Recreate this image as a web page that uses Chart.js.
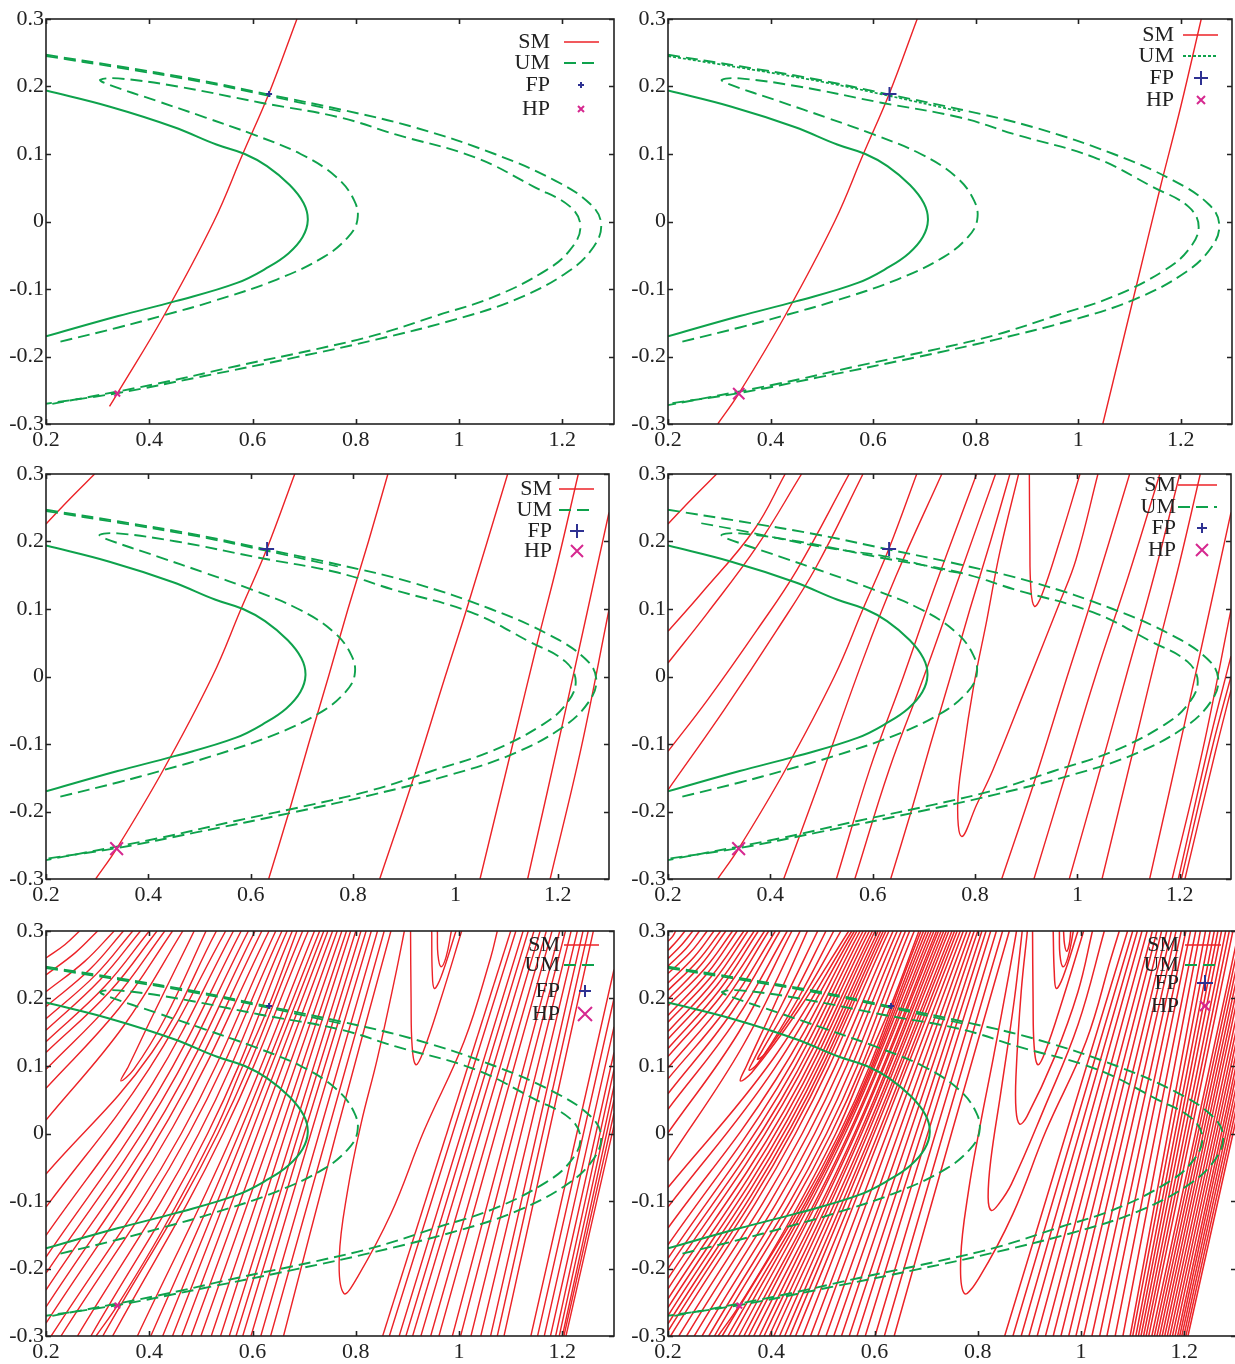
<!DOCTYPE html>
<html>
<head>
<meta charset="utf-8">
<title>Stable and unstable manifolds</title>
<script src="https://cdn.jsdelivr.net/npm/chart.js@4.4.1/dist/chart.umd.min.js"></script>
<style>
  html, body { margin: 0; padding: 0; background: #fff; }
  body { width: 1235px; height: 1364px; position: relative; overflow: hidden; }
  canvas { position: absolute; }
</style>
</head>
<body>
<script>
// ---------------- DATA ----------------
const X_TICKS = [0.2, 0.4, 0.6, 0.8, 1, 1.2];
const X_TICK_LABELS = ['0.2', '0.4', '0.6', '0.8', '1', '1.2'];
const Y_TICKS = [-0.3, -0.2, -0.1, 0, 0.1, 0.2, 0.3];
const Y_TICK_LABELS = ['-0.3', '-0.2', '-0.1', '0', '0.1', '0.2', '0.3'];
const LEGEND_LABELS = ['SM', 'UM', 'FP', 'HP'];

const FP = [0.632, 0.189];   // fixed point
const HP = [0.338, -0.255];  // homoclinic point

// unstable manifold (same in every panel), flat x,y lists
const UM_SOLID = [0.2,0.194, 0.324,0.17, 0.447,0.14, 0.53,0.114, 0.585,0.1, 0.628,0.082, 0.672,0.054, 0.699,0.027,
  0.707,0.002, 0.697,-0.023, 0.67,-0.047, 0.632,-0.067, 0.57,-0.091, 0.451,-0.118, 0.34,-0.14, 0.2,-0.17];
const UM_FOLD = [0.228,-0.178, 0.34,-0.157, 0.428,-0.139, 0.524,-0.118, 0.647,-0.086, 0.739,-0.052, 0.785,-0.023,
  0.803,0.002, 0.797,0.031, 0.762,0.066, 0.693,0.1, 0.601,0.129, 0.509,0.154, 0.417,0.178, 0.317,0.204, 0.305,0.21,
  0.34,0.212, 0.455,0.2, 0.616,0.176, 0.77,0.154, 0.877,0.129, 1.031,0.095, 1.146,0.051, 1.215,0.022, 1.235,-0.008,
  1.215,-0.042, 1.169,-0.072, 1.069,-0.111, 0.954,-0.14, 0.839,-0.168, 0.724,-0.189, 0.57,-0.214, 0.417,-0.24, 0.2,-0.272];
const UM_OUTER = [0.2,0.247, 0.34,0.23, 0.493,0.21, 0.632,0.188, 0.77,0.166, 0.916,0.139, 1.069,0.1, 1.185,0.061,
  1.254,0.026, 1.275,-0.003, 1.261,-0.037, 1.208,-0.076, 1.108,-0.116, 0.993,-0.145, 0.839,-0.175, 0.685,-0.201,
  0.493,-0.231, 0.34,-0.254, 0.2,-0.27];
const UM_TWIN = [0.2,0.245, 0.34,0.228, 0.5,0.207, 0.632,0.186, 0.77,0.163];
const UM_SPLIT = [0.265,0.227, 0.35,0.215, 0.5,0.192, 0.632,0.177, 0.735,0.158, 0.78,0.152];

// stable manifold pieces, flat x,y lists
const SM_R1 = [0.297,-0.3, 0.338,-0.255, 0.428,-0.14, 0.525,0, 0.581,0.1, 0.632,0.19, 0.686,0.3];
const SM_R1_SHORT = [0.323,-0.274, 0.338,-0.255, 0.428,-0.14, 0.525,0, 0.581,0.1, 0.632,0.19, 0.686,0.3];
const SM_R2 = [1.048,-0.3, 1.112,-0.1, 1.16,0.05, 1.2,0.17, 1.24,0.3];
const SM_CORNER = [0.2,0.226, 0.245,0.262, 0.295,0.3];
const SM_L3 = [0.635,-0.3, 0.675,-0.2, 0.713,-0.1, 0.752,0, 0.79,0.1, 0.83,0.2, 0.868,0.3];
const SM_L4 = [0.852,-0.3, 0.914,-0.16, 0.98,0, 1.022,0.1, 1.102,0.3];
const SM_L6 = [1.141,-0.3, 1.214,-0.054, 1.3,0.243];
const SM_L7 = [1.185,-0.3, 1.245,-0.108, 1.3,0.099];

const SM_P1 = [SM_R1_SHORT];
const SM_P2 = [SM_R1, SM_R2];
const SM_P3 = [SM_CORNER, SM_R1, SM_L3, SM_L4, SM_R2, SM_L6, SM_L7];
const SM_P4 = [
  SM_CORNER,
  [0.2,0.067, 0.265,0.123, 0.368,0.217, 0.429,0.3],
  [0.2,0.02, 0.277,0.094, 0.374,0.193, 0.461,0.3],
  [0.2,-0.111, 0.277,-0.035, 0.374,0.069, 0.452,0.158, 0.554,0.3],
  [0.2,-0.168, 0.31,-0.049, 0.413,0.069, 0.49,0.163, 0.581,0.3],
  SM_R1,
  [0.426,-0.3, 0.49,-0.168, 0.581,0.025, 0.645,0.148, 0.735,0.3],
  [0.529,-0.3, 0.594,-0.138, 0.66,0, 0.72,0.13, 0.803,0.3],
  [0.565,-0.3, 0.632,-0.138, 0.7,0, 0.77,0.15, 0.84,0.3],
  SM_L3,
  [0.885,0.3, 0.848,0.183, 0.823,0.084, 0.797,-0.015, 0.777,-0.113, 0.766,-0.19, 0.774,-0.237, 0.803,-0.19,
   0.835,-0.138, 0.9,-0.015, 0.965,0.109, 0.997,0.173, 1.04,0.3],
  [0.906,0.3, 0.907,0.2, 0.909,0.13, 0.916,0.104, 0.93,0.12, 0.965,0.2, 1.005,0.3],
  SM_L4,
  [0.915,-0.3, 0.975,-0.15, 1.035,0, 1.1,0.15, 1.161,0.3],
  [0.984,-0.3, 1.04,-0.15, 1.095,0, 1.15,0.15, 1.2,0.3],
  SM_R2, SM_L6, SM_L7,
  [1.197,-0.3, 1.26,-0.09, 1.3,0.03],
  [1.203,-0.3, 1.265,-0.1, 1.3,0.0],
  [1.21,-0.3, 1.27,-0.11, 1.3,-0.02]
];
const SM_P5 = [
  [0.2,0.26, 0.237,0.28, 0.265,0.3],
  [0.2,0.235, 0.257,0.268, 0.3,0.3],
  [0.2,0.21, 0.275,0.255, 0.332,0.3],
  [0.2,0.188, 0.286,0.244, 0.35,0.3],
  [0.2,0.17, 0.296,0.235, 0.368,0.3],
  [0.2,0.153, 0.304,0.227, 0.383,0.3],
  [0.2,0.136, 0.314,0.218, 0.4,0.3],
  [0.2,0.12, 0.323,0.21, 0.415,0.3],
  [0.2,0.095, 0.331,0.198, 0.43,0.3],
  [0.2,0.067, 0.34,0.184, 0.445,0.3],
  [0.2,0.02, 0.351,0.16, 0.465,0.3],
  [0.487,0.3, 0.41,0.18, 0.36,0.1, 0.345,0.078, 0.37,0.095, 0.43,0.17, 0.51,0.3],
  [0.2,-0.06, 0.405,0.12, 0.53,0.3],
  [0.2,-0.109, 0.4,0.096, 0.548,0.3],
  [0.2,-0.151, 0.407,0.075, 0.563,0.3],
  [0.2,-0.183, 0.415,0.059, 0.578,0.3],
  [0.2,-0.207, 0.423,0.047, 0.592,0.3],
  [0.2,-0.232, 0.431,0.034, 0.605,0.3],
  [0.2,-0.257, 0.438,0.022, 0.618,0.3],
  [0.2,-0.281, 0.446,0.01, 0.632,0.3],
  [0.21,-0.3, 0.462,0, 0.645,0.3],
  [0.229,-0.3, 0.477,0, 0.657,0.3],
  [0.261,-0.3, 0.496,0, 0.667,0.3],
  [0.287,-0.3, 0.513,0, 0.677,0.3],
  SM_R1,
  [0.31,-0.3, 0.533,0, 0.697,0.3],
  [0.329,-0.3, 0.543,0, 0.708,0.3],
  [0.377,-0.3, 0.562,0, 0.72,0.3],
  [0.403,-0.3, 0.574,0, 0.73,0.3],
  [0.426,-0.3, 0.585,0, 0.738,0.3],
  [0.445,-0.3, 0.597,0, 0.746,0.3],
  [0.463,-0.3, 0.61,0, 0.755,0.3],
  [0.481,-0.3, 0.624,0, 0.764,0.3],
  [0.5,-0.3, 0.638,0, 0.773,0.3],
  [0.52,-0.3, 0.652,0, 0.782,0.3],
  [0.538,-0.3, 0.664,0, 0.79,0.3],
  [0.555,-0.3, 0.678,0, 0.8,0.3],
  [0.568,-0.3, 0.689,0, 0.81,0.3],
  [0.581,-0.3, 0.7,0, 0.82,0.3],
  [0.597,-0.3, 0.713,0, 0.83,0.3],
  [0.616,-0.3, 0.729,0, 0.842,0.3],
  [0.635,-0.3, 0.745,0, 0.855,0.3],
  [0.66,-0.3, 0.762,0, 0.868,0.3],
  [0.894,0.3, 0.877,0.235, 0.842,0.112, 0.81,0.014, 0.784,-0.085, 0.768,-0.183, 0.777,-0.237, 0.803,-0.213,
   0.868,-0.119, 0.932,0.004, 1.01,0.137, 1.061,0.26, 1.074,0.3],
  [0.906,0.3, 0.907,0.2, 0.909,0.13, 0.916,0.102, 0.93,0.12, 0.965,0.2, 1.005,0.3],
  [0.947,0.3, 0.948,0.24, 0.952,0.215, 0.965,0.232, 0.994,0.3],
  [0.958,0.3, 0.959,0.265, 0.965,0.247, 0.975,0.262, 0.985,0.3],
  [0.852,-0.3, 1.1,0.3], [0.865,-0.3, 1.11,0.3], [0.884,-0.3, 1.124,0.3], [0.897,-0.3, 1.134,0.3],
  [0.91,-0.3, 1.145,0.3], [0.926,-0.3, 1.157,0.3], [0.945,-0.3, 1.169,0.3], [0.961,-0.3, 1.18,0.3],
  [0.987,-0.3, 1.195,0.3], [1.003,-0.3, 1.206,0.3], [1.023,-0.3, 1.217,0.3], [1.042,-0.3, 1.229,0.3],
  [1.061,-0.3, 1.24,0.3], [1.074,-0.3, 1.25,0.3], [1.087,-0.3, 1.26,0.3],
  [1.139,-0.3, 1.3,0.243], [1.152,-0.3, 1.3,0.2], [1.165,-0.3, 1.3,0.158], [1.177,-0.3, 1.3,0.12],
  [1.187,-0.3, 1.3,0.095], [1.194,-0.3, 1.3,0.07], [1.2,-0.3, 1.3,0.05], [1.203,-0.3, 1.3,0.03],
  [1.207,-0.3, 1.3,0.012]
];
const SM_P6 = [
  [0.2,0.285, 0.209,0.292, 0.215,0.3],
  [0.2,0.271, 0.218,0.286, 0.233,0.3],
  [0.2,0.259, 0.227,0.28, 0.248,0.3],
  [0.2,0.248, 0.235,0.274, 0.261,0.3],
  [0.2,0.237, 0.243,0.268, 0.276,0.3],
  [0.2,0.223, 0.251,0.262, 0.289,0.3],
  [0.2,0.212, 0.258,0.256, 0.302,0.3],
  [0.2,0.199, 0.264,0.25, 0.312,0.3],
  [0.2,0.189, 0.271,0.244, 0.325,0.3],
  [0.2,0.175, 0.277,0.238, 0.334,0.3],
  [0.2,0.165, 0.283,0.232, 0.347,0.3],
  [0.2,0.151, 0.289,0.226, 0.355,0.3],
  [0.2,0.14, 0.295,0.22, 0.367,0.3],
  [0.2,0.126, 0.3,0.213, 0.375,0.3],
  [0.2,0.114, 0.306,0.207, 0.387,0.3],
  [0.2,0.097, 0.312,0.199, 0.395,0.3],
  [0.2,0.081, 0.318,0.19, 0.408,0.3],
  [0.2,0.059, 0.324,0.18, 0.417,0.3],
  [0.2,0.036, 0.331,0.168, 0.431,0.3],
  [0.2,0.001, 0.337,0.15, 0.44,0.3],
  [0.2,-0.041, 0.345,0.13, 0.456,0.3],
  [0.47,0.3, 0.4,0.18, 0.352,0.1, 0.34,0.078, 0.362,0.09, 0.45,0.18, 0.55,0.3],
  [0.49,0.3, 0.42,0.19, 0.366,0.109, 0.357,0.094, 0.373,0.103, 0.452,0.19, 0.535,0.3],
  [0.506,0.3, 0.44,0.2, 0.381,0.121, 0.373,0.11, 0.387,0.118, 0.452,0.2, 0.521,0.3],
  [0.2,-0.08, 0.403,0.11, 0.556,0.3],
  [0.2,-0.109, 0.406,0.096, 0.561,0.3],
  [0.2,-0.14, 0.409,0.08, 0.566,0.3],
  [0.2,-0.165, 0.412,0.068, 0.572,0.3],
  [0.2,-0.185, 0.415,0.058, 0.578,0.3],
  [0.2,-0.2, 0.419,0.05, 0.584,0.3],
  [0.2,-0.215, 0.422,0.043, 0.59,0.3],
  [0.2,-0.23, 0.426,0.035, 0.596,0.3],
  [0.2,-0.245, 0.429,0.028, 0.601,0.3],
  [0.2,-0.258, 0.432,0.021, 0.607,0.3],
  [0.2,-0.27, 0.435,0.015, 0.612,0.3],
  [0.2,-0.282, 0.438,0.009, 0.617,0.3],
  [0.2,-0.293, 0.441,0.004, 0.622,0.3],
  [0.205,-0.3, 0.447,0, 0.628,0.3],
  [0.221,-0.3, 0.46,0, 0.636,0.3],
  [0.236,-0.3, 0.472,0, 0.644,0.3],
  [0.251,-0.3, 0.484,0, 0.652,0.3],
  [0.266,-0.3, 0.496,0, 0.66,0.3],
  [0.279,-0.3, 0.507,0, 0.668,0.3],
  [0.29,-0.3, 0.516,0, 0.677,0.3],
  SM_R1,
  [0.305,-0.3, 0.532,0, 0.69,0.3],
  [0.316,-0.3, 0.536,0, 0.695,0.3],
  [0.326,-0.3, 0.539,0, 0.7,0.3],
  [0.337,-0.3, 0.543,0, 0.705,0.3],
  [0.347,-0.3, 0.55,0, 0.71,0.3],
  [0.356,-0.3, 0.553,0, 0.715,0.3],
  [0.366,-0.3, 0.561,0, 0.72,0.3],
  [0.377,-0.3, 0.564,0, 0.724,0.3],
  [0.386,-0.3, 0.571,0, 0.729,0.3],
  [0.396,-0.3, 0.575,0, 0.734,0.3],
  [0.405,-0.3, 0.582,0, 0.739,0.3],
  [0.416,-0.3, 0.587,0, 0.744,0.3],
  [0.426,-0.3, 0.594,0, 0.75,0.3],
  [0.436,-0.3, 0.599,0, 0.755,0.3],
  [0.447,-0.3, 0.607,0, 0.76,0.3],
  [0.461,-0.3, 0.613,0, 0.766,0.3],
  [0.476,-0.3, 0.624,0, 0.772,0.3],
  [0.49,-0.3, 0.634,0, 0.779,0.3],
  [0.506,-0.3, 0.646,0, 0.786,0.3],
  [0.521,-0.3, 0.657,0, 0.793,0.3],
  [0.536,-0.3, 0.668,0, 0.8,0.3],
  [0.551,-0.3, 0.68,0, 0.808,0.3],
  [0.566,-0.3, 0.691,0, 0.816,0.3],
  [0.582,-0.3, 0.703,0, 0.825,0.3],
  [0.601,-0.3, 0.718,0, 0.836,0.3],
  [0.619,-0.3, 0.733,0, 0.848,0.3],
  [0.638,-0.3, 0.749,0, 0.861,0.3],
  [0.875,0.3, 0.86,0.235, 0.83,0.112, 0.805,0.014, 0.782,-0.085, 0.767,-0.183, 0.774,-0.237, 0.803,-0.213,
   0.868,-0.119, 0.932,0.004, 1.01,0.137, 1.058,0.26, 1.074,0.3],
  [0.886,0.3, 0.871,0.2, 0.845,0.063, 0.825,-0.04, 0.82,-0.095, 0.826,-0.114, 0.84,-0.105, 0.865,-0.075,
   0.929,0.038, 0.994,0.161, 1.045,0.3],
  [0.896,0.3, 0.884,0.21, 0.874,0.087, 0.874,0.035, 0.881,0.014, 0.895,0.025, 0.948,0.112, 0.994,0.21, 1.022,0.3],
  [0.906,0.3, 0.907,0.2, 0.909,0.13, 0.916,0.102, 0.93,0.12, 0.965,0.2, 1.005,0.3],
  [0.946,0.3, 0.948,0.24, 0.952,0.215, 0.965,0.232, 0.994,0.3],
  [0.958,0.3, 0.959,0.265, 0.965,0.247, 0.975,0.262, 0.985,0.3],
  [0.966,0.3, 0.968,0.28, 0.972,0.27, 0.977,0.28, 0.98,0.3],
  [0.852,-0.3, 1.09,0.3], [0.868,-0.3, 1.1,0.3], [0.884,-0.3, 1.109,0.3], [0.899,-0.3, 1.118,0.3],
  [0.915,-0.3, 1.128,0.3], [0.931,-0.3, 1.138,0.3], [0.946,-0.3, 1.147,0.3], [0.961,-0.3, 1.156,0.3],
  [0.976,-0.3, 1.166,0.3], [0.99,-0.3, 1.175,0.3], [1.005,-0.3, 1.184,0.3], [1.021,-0.3, 1.194,0.3],
  [1.036,-0.3, 1.203,0.3], [1.05,-0.3, 1.212,0.3], [1.066,-0.3, 1.222,0.3], [1.081,-0.3, 1.231,0.3],
  [1.095,-0.3, 1.241,0.3],
  [1.1,-0.3, 1.25,0.3], [1.106,-0.3, 1.258,0.3], [1.111,-0.3, 1.265,0.3], [1.116,-0.3, 1.272,0.3],
  [1.121,-0.3, 1.28,0.3], [1.126,-0.3, 1.287,0.3], [1.131,-0.3, 1.294,0.3],
  [1.137,-0.3, 1.3,0.28], [1.142,-0.3, 1.3,0.262], [1.147,-0.3, 1.3,0.243], [1.152,-0.3, 1.3,0.225],
  [1.157,-0.3, 1.3,0.207], [1.162,-0.3, 1.3,0.19], [1.167,-0.3, 1.3,0.17], [1.172,-0.3, 1.3,0.152],
  [1.177,-0.3, 1.3,0.135], [1.182,-0.3, 1.3,0.118], [1.187,-0.3, 1.3,0.1], [1.191,-0.3, 1.3,0.085],
  [1.195,-0.3, 1.3,0.068], [1.199,-0.3, 1.3,0.052], [1.203,-0.3, 1.3,0.036], [1.207,-0.3, 1.3,0.02]
];

// ---------------- STYLE / LAYOUT ----------------
const RED = '#ec2227';
const GREEN = '#0ea24c';
const BLUE = '#2e3192';
const MAGENTA = '#d6288f';
const AXIS = '#222';
const FONT = '"Liberation Serif", "Times New Roman", serif';
const TICK_LEN = 5;

const PANELS = [
  { left: 0,   top: 0,   sm: SM_P1, redWidth: 1.4, twin: UM_TWIN,  twinDash: [12, 6], umDash: [12, 6], fp: 3, hp: 4,
    key: { textRight: 64, sample: [50, 15], marker: 33, rows: [23, 44, 66, 90], fp: 3, hp: 3 } },
  { left: 622, top: 0,   sm: SM_P2, redWidth: 1.4, twin: UM_TWIN,  twinDash: [3, 2],  umDash: [3, 2],  fp: 7, hp: 8,
    key: { textRight: 58, sample: [49, 14], marker: 31, rows: [16, 37, 59, 81], fp: 7, hp: 4 } },
  { left: 0,   top: 455, sm: SM_P3, redWidth: 1.4, twin: UM_TWIN,  twinDash: [12, 6], umDash: [12, 6], fp: 7, hp: 9,
    key: { textRight: 57, sample: [50, 15], marker: 32, rows: [15, 36, 57, 77], fp: 7, hp: 6 } },
  { left: 622, top: 455, sm: SM_P4, redWidth: 1.4, twin: UM_SPLIT, twinDash: [12, 6], umDash: [12, 6], fp: 7, hp: 9,
    key: { textRight: 55, sample: [53, 14], marker: 29, rows: [11, 33, 54, 76], fp: 5, hp: 6 } },
  { left: 0,   top: 912, sm: SM_P5, redWidth: 1.4, twin: UM_TWIN,  twinDash: [12, 6], umDash: [12, 6], fp: 3, hp: 4,
    key: { textRight: 54, sample: [50, 15], marker: 29, rows: [14, 34, 60, 83], fp: 6, hp: 7 } },
  { left: 622, top: 912, sm: SM_P6, redWidth: 1.5, twin: UM_TWIN,  twinDash: [12, 6], umDash: [12, 6], fp: 3, hp: 4,
    key: { textRight: 57, sample: [51, 15], marker: 31, rows: [14, 34, 52, 75], fp: 8, hp: 5 } }
];
const CANVAS_W = 620, CANVAS_H = 456;

Chart.defaults.font.family = FONT;

function pts(flat) {
  const out = [];
  for (let i = 0; i < flat.length; i += 2) out.push({ x: flat[i], y: flat[i + 1] });
  return out;
}

function drawPlus(ctx, x, y, r, color) {
  ctx.strokeStyle = color;
  ctx.lineWidth = 2;
  ctx.beginPath();
  ctx.moveTo(x - r, y); ctx.lineTo(x + r, y);
  ctx.moveTo(x, y - r); ctx.lineTo(x, y + r);
  ctx.stroke();
}

function drawCross(ctx, x, y, r, color) {
  ctx.strokeStyle = color;
  ctx.lineWidth = 2;
  ctx.beginPath();
  ctx.moveTo(x - r, y - r); ctx.lineTo(x + r, y + r);
  ctx.moveTo(x - r, y + r); ctx.lineTo(x + r, y - r);
  ctx.stroke();
}

// frame with inward ticks on all sides, plus the key
const panelDecor = {
  id: 'panelDecor',
  afterDraw(chart, args, o) {
    const { ctx, chartArea: a } = chart;
    const xs = chart.scales.x, ys = chart.scales.y;
    ctx.save();
    ctx.setLineDash([]);
    ctx.strokeStyle = AXIS;
    ctx.lineWidth = 1.6;
    ctx.strokeRect(a.left, a.top, a.right - a.left, a.bottom - a.top);
    ctx.beginPath();
    X_TICKS.forEach(v => {
      const px = Math.round(xs.getPixelForValue(v)) + 0.5;
      ctx.moveTo(px, a.bottom); ctx.lineTo(px, a.bottom - TICK_LEN);
      ctx.moveTo(px, a.top); ctx.lineTo(px, a.top + TICK_LEN);
    });
    Y_TICKS.forEach(v => {
      const py = Math.round(ys.getPixelForValue(v)) + 0.5;
      ctx.moveTo(a.left, py); ctx.lineTo(a.left + TICK_LEN, py);
      ctx.moveTo(a.right, py); ctx.lineTo(a.right - TICK_LEN, py);
    });
    ctx.stroke();

    const k = o.key;
    ctx.font = '22px ' + FONT;
    ctx.fillStyle = AXIS;
    ctx.textAlign = 'right';
    ctx.textBaseline = 'middle';
    LEGEND_LABELS.forEach((t, i) => ctx.fillText(t, a.right - k.textRight, a.top + k.rows[i]));

    ctx.strokeStyle = RED;
    ctx.lineWidth = 1.5;
    ctx.beginPath();
    ctx.moveTo(a.right - k.sample[0], a.top + k.rows[0]);
    ctx.lineTo(a.right - k.sample[1], a.top + k.rows[0]);
    ctx.stroke();

    ctx.strokeStyle = GREEN;
    ctx.lineWidth = 2;
    ctx.setLineDash(o.umDash);
    ctx.beginPath();
    ctx.moveTo(a.right - k.sample[0], a.top + k.rows[1]);
    ctx.lineTo(a.right - k.sample[1], a.top + k.rows[1]);
    ctx.stroke();
    ctx.setLineDash([]);

    drawPlus(ctx, a.right - k.marker, a.top + k.rows[2], k.fp, BLUE);
    drawCross(ctx, a.right - k.marker, a.top + k.rows[3], k.hp, MAGENTA);
    ctx.restore();
  }
};

function buildDatasets(p) {
  const ds = [];
  p.sm.forEach(c => ds.push({
    data: pts(c), showLine: true, borderColor: RED, borderWidth: p.redWidth,
    pointRadius: 0, tension: 0.4, fill: false, order: 3
  }));
  const green = (flat, dash, width) => ({
    data: pts(flat), showLine: true, borderColor: GREEN, borderWidth: width,
    borderDash: dash, pointRadius: 0, tension: 0.4, fill: false, order: 2
  });
  ds.push(green(UM_SOLID, [], 2));
  ds.push(green(UM_FOLD, [12, 6], 1.9));
  ds.push(green(UM_OUTER, [12, 6], 1.9));
  ds.push(green(p.twin, p.twinDash, 1.7));
  ds.push({
    data: [{ x: FP[0], y: FP[1] }], showLine: false, pointStyle: 'cross',
    pointRadius: p.fp, borderColor: BLUE, backgroundColor: BLUE, pointBorderWidth: 2, order: 0
  });
  ds.push({
    data: [{ x: HP[0], y: HP[1] }], showLine: false, pointStyle: 'crossRot',
    pointRadius: p.hp, borderColor: MAGENTA, backgroundColor: MAGENTA, pointBorderWidth: 2, order: 0
  });
  return ds;
}

PANELS.forEach(p => {
  const canvas = document.createElement('canvas');
  canvas.width = CANVAS_W;
  canvas.height = CANVAS_H;
  canvas.style.left = p.left + 'px';
  canvas.style.top = p.top + 'px';
  canvas.style.width = CANVAS_W + 'px';
  canvas.style.height = CANVAS_H + 'px';
  document.body.appendChild(canvas);

  new Chart(canvas.getContext('2d'), {
    type: 'scatter',
    data: { datasets: buildDatasets(p) },
    options: {
      responsive: false,
      animation: false,
      events: [],
      devicePixelRatio: 1,
      layout: { padding: { top: 19, right: 6, left: 0, bottom: 0 } },
      elements: { line: { capBezierPoints: false } },
      plugins: {
        legend: { display: false },
        tooltip: { enabled: false },
        panelDecor: { key: p.key, umDash: p.umDash }
      },
      scales: {
        x: {
          type: 'linear', min: 0.2, max: 1.3,
          afterBuildTicks: s => { s.ticks = X_TICKS.map(v => ({ value: v })); },
          afterFit: s => { s.height = 32; },
          grid: { display: false, drawTicks: false },
          border: { display: false },
          ticks: {
            callback: (v, i) => X_TICK_LABELS[i], autoSkip: false, maxRotation: 0,
            color: AXIS, padding: 3, font: { size: 22, family: FONT }
          }
        },
        y: {
          type: 'linear', min: -0.3, max: 0.3,
          afterBuildTicks: s => { s.ticks = Y_TICKS.map(v => ({ value: v })); },
          afterFit: s => { s.width = 46; },
          grid: { display: false, drawTicks: false },
          border: { display: false },
          ticks: {
            callback: (v, i) => Y_TICK_LABELS[i], autoSkip: false,
            color: AXIS, padding: 2, font: { size: 22, family: FONT }
          }
        }
      }
    },
    plugins: [panelDecor]
  });
});
</script>
</body>
</html>
